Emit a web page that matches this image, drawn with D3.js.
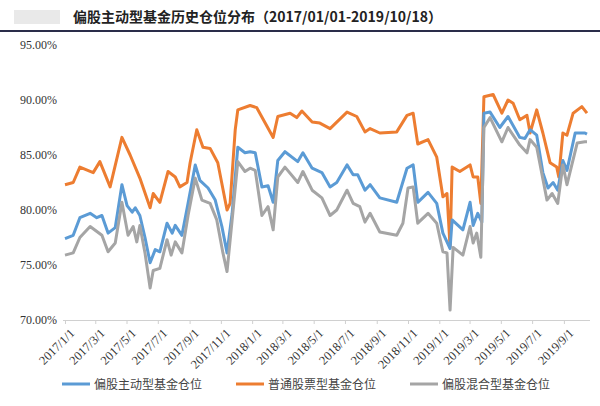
<!DOCTYPE html>
<html><head><meta charset="utf-8">
<script src="https://cdn.jsdelivr.net/npm/d3@7"></script>
<style>body{margin:0;background:#fff}</style>
</head><body><svg id="c" width="600" height="406"></svg>
<script>
const title = "偏股主动型基金历史仓位分布（2017/01/01-2019/10/18）";
const seriesNames = ["偏股主动型基金仓位","普通股票型基金仓位","偏股混合型基金仓位"];
const colors = ["#5b9bd5","#ed7d31","#a5a5a5"];
const yTicks = [70,75,80,85,90,95];
const xTickLabels = ["2017/1/1","2017/3/1","2017/5/1","2017/7/1","2017/9/1","2017/11/1","2018/1/1","2018/3/1","2018/5/1","2018/7/1","2018/9/1","2018/11/1","2019/1/1","2019/3/1","2019/5/1","2019/7/1","2019/9/1"];
// day offsets from 2017-01-01 and values (%)
const blueDays = [0,16,29,49,62,72,84,98,111,121,131,137,146,156,166,176,185,199,209,215,228,240,254,263,279,293,306,316,326,337,351,361,371,384,396,406,415,429,454,464,482,501,517,530,550,562,571,585,595,614,647,667,679,688,708,725,737,751,755,776,790,796,805,813,817,829,848,864,887,897,907,920,932,942,952,961,971,979,995,1014,1018];
const blueVals = [77.4,77.7,79.3,79.7,79.3,79.5,77.9,78.4,82.3,80.4,79.8,80.2,79.5,77.5,75.2,76.4,76.2,78.8,77.9,78.6,77.7,80.6,84.1,82.7,82,80.9,78.5,76.1,79.7,85.7,85.2,85.3,85.2,82.1,82.2,80.7,84.5,85.3,84.4,85.2,83.8,83.4,82.1,82.5,84.1,83.2,83.2,81.8,82.3,81.1,80.7,83.8,84.1,80.7,81.6,80.6,77.9,76.5,79.1,78.2,80.7,78.6,79.7,78.9,88.8,88.9,87.5,88.5,86.6,86.5,87.3,86.8,83.4,82,82.5,81.8,84.5,83.6,87,87,86.9];
const orangeDays = [0,16,29,55,68,88,111,127,146,166,172,185,201,215,224,238,244,257,269,283,298,316,322,332,337,361,374,406,415,439,452,462,482,497,517,550,569,585,595,614,647,667,679,688,708,725,737,745,751,755,770,790,796,805,811,817,835,852,864,874,887,901,907,920,932,946,959,963,971,979,991,1008,1018];
const orangeVals = [82.3,82.5,83.9,83.4,84.4,82.1,86.6,85,82.9,80.2,81.5,80.7,83.5,83,82.1,82.5,84.3,87.3,85.7,85.6,84.3,80,80.6,87.3,89.1,89.5,89.3,86.6,88.5,88.8,88.4,89,88,87.9,87.4,88.9,88.5,87.1,87.4,87,87.1,88.6,88.8,86,86.4,84.8,81.2,81.5,76.6,83.9,83.5,84.1,83,83,80.6,90.3,90.5,88.8,90,89.7,88.2,88.6,87,89.1,87,84.3,83.9,83,87,86.8,88.8,89.4,88.8];
const grayDays = [0,16,29,49,72,84,98,111,123,133,140,146,156,166,172,185,199,207,215,228,240,254,267,283,296,308,316,326,337,351,361,371,384,396,406,415,429,454,464,482,501,517,530,550,562,575,585,595,614,647,659,669,679,688,708,725,737,745,751,757,776,790,796,803,811,817,829,852,864,887,901,907,920,940,950,961,971,979,999,1014,1018];
const grayVals = [75.9,76.1,77.5,78.5,77.7,76.2,77,80.7,77.7,78.5,77.1,78.6,76.1,72.9,74.5,74.7,77.3,75.9,77.1,76.1,79.5,82.9,80.9,80.6,79.1,76.1,74.4,79.1,84.4,83.5,83.8,83.6,79.5,80.3,78.2,83,83.9,82.5,83.5,81.8,81.1,79.5,80,81.8,80.6,80.3,78.9,79.7,78,77.7,78.8,82,82.1,78.8,79.7,78.8,76.2,76.1,70.9,76.6,75.9,78.5,77,77.9,75.7,87.5,88.4,86.2,87.5,85.9,85.2,86.4,85.7,80.9,81.5,80.6,84.1,82.3,86.1,86.2,86.2];

const svg = d3.select("#c");
const start = new Date(2017,0,1), end = new Date(2019,9,18);
const dayToDate = d => d3.timeDay.offset(start, d);
const x = d3.scaleTime().domain([start,end]).range([65,588]);
const y = d3.scaleLinear().domain([70,95]).range([320,45]);

// title
svg.append("rect").attr("x",14).attr("y",10).attr("width",46).attr("height",14).attr("fill","#d4d4d4").attr("opacity",0.5);
svg.append("text").attr("x",73).attr("y",22).attr("font-family","Noto Sans CJK SC").attr("font-weight","bold")
  .attr("font-size",14).attr("fill","#222").text(title);
svg.append("line").attr("x1",0).attr("x2",600).attr("y1",31).attr("y2",31).attr("stroke","#2a2d4a").attr("stroke-width",2);

// y labels
svg.selectAll(".yl").data(yTicks).join("text").attr("class","yl")
  .attr("x",57).attr("y",d=>y(d)+4).attr("text-anchor","end")
  .attr("font-family","Liberation Serif").attr("font-size",12).attr("fill","#333")
  .text(d=>d.toFixed(2)+"%");

// x axis
const tickDates = xTickLabels.map(s=>{const [a,b,c]=s.split("/").map(Number);return new Date(a,b-1,c);});
const ax = svg.append("g").attr("transform","translate(0,320)")
  .call(d3.axisBottom(x).tickValues(tickDates).tickSize(4).tickFormat((d,i)=>xTickLabels[i]));
ax.select(".domain").attr("stroke","#d0d0d0").attr("d","M63,0.5H590");
ax.selectAll(".tick line").attr("stroke","#d0d0d0");
ax.selectAll(".tick text").attr("font-family","Liberation Serif").attr("font-size",12.5).attr("fill","#333")
  .attr("text-anchor","end").attr("dx","0").attr("dy","0").attr("transform","translate(5,9) rotate(-45)");

// lines
const data = [[blueDays,blueVals],[orangeDays,orangeVals],[grayDays,grayVals]];
const line = d3.line().x(d=>x(d[0])).y(d=>y(d[1]));
const order = [1,0,2];
order.forEach(i=>{
  const pts = data[i][0].map((d,k)=>[dayToDate(d),data[i][1][k]]);
  svg.append("path").datum(pts).attr("d",line).attr("fill","none")
    .attr("stroke",colors[i]).attr("stroke-width",3).attr("stroke-linejoin","round");
});

// legend
const lx = [62,236,410];
seriesNames.forEach((n,i)=>{
  svg.append("line").attr("x1",lx[i]).attr("x2",lx[i]+28).attr("y1",384).attr("y2",384)
    .attr("stroke",colors[i]).attr("stroke-width",3);
  svg.append("text").attr("x",lx[i]+32).attr("y",389).attr("font-family","Noto Sans CJK SC")
    .attr("font-size",12).attr("fill","#444").text(n);
});
</script></body></html>
